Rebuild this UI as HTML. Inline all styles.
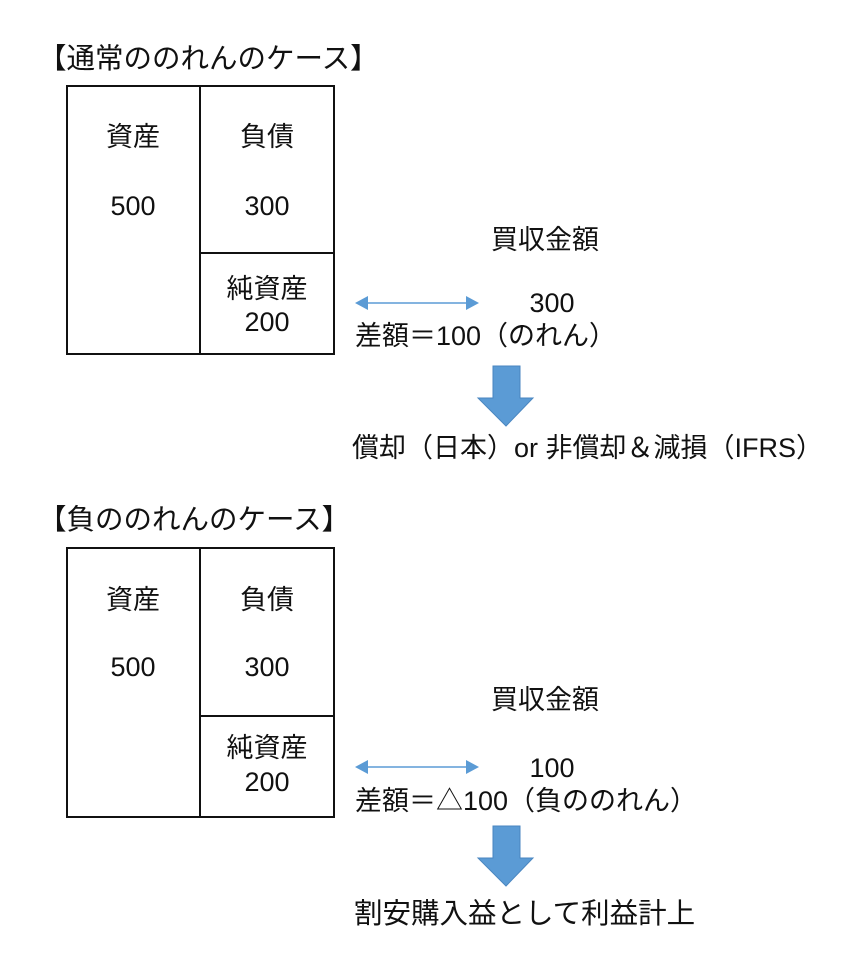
<!DOCTYPE html>
<html><head><meta charset="utf-8"><style>
html,body{margin:0;padding:0;background:#fff;}
svg text{font-family:"Liberation Sans","Noto Sans CJK JP",sans-serif;font-size:27px;fill:#111;}
svg text.t{font-size:28.5px;}
svg text.b{font-size:28.5px;}
</style></head><body>
<svg width="860" height="963" viewBox="0 0 860 963" xmlns="http://www.w3.org/2000/svg">
<g stroke="#111" stroke-width="2" fill="none">
<rect x="67" y="86" width="267" height="268"/>
<line x1="200" y1="86" x2="200" y2="354"/>
<line x1="200" y1="253" x2="334" y2="253"/>
<rect x="67" y="548" width="267" height="269"/>
<line x1="200" y1="548" x2="200" y2="817"/>
<line x1="200" y1="716" x2="334" y2="716"/>
</g>
<text class="t" x="38" y="68">【通常ののれんのケース】</text>
<text x="133" y="146" text-anchor="middle">資産</text>
<text x="133" y="215" text-anchor="middle">500</text>
<text x="267" y="146" text-anchor="middle">負債</text>
<text x="267" y="215" text-anchor="middle">300</text>
<text x="267" y="298" text-anchor="middle">純資産</text>
<text x="267" y="331" text-anchor="middle">200</text>
<text x="545" y="249" text-anchor="middle">買収金額</text>
<text x="552" y="312" text-anchor="middle">300</text>
<text x="355" y="345">差額＝100（のれん）</text>
<text x="352" y="457">償却（日本）or 非償却＆減損（IFRS）</text>

<text class="t" x="38" y="529">【負ののれんのケース】</text>
<text x="133" y="609" text-anchor="middle">資産</text>
<text x="133" y="676" text-anchor="middle">500</text>
<text x="267" y="609" text-anchor="middle">負債</text>
<text x="267" y="676" text-anchor="middle">300</text>
<text x="267" y="757" text-anchor="middle">純資産</text>
<text x="267" y="791" text-anchor="middle">200</text>
<text x="545" y="709" text-anchor="middle">買収金額</text>
<text x="552" y="777" text-anchor="middle">100</text>
<text x="355" y="810">差額＝△100（負ののれん）</text>
<text class="b" x="354" y="923">割安購入益として利益計上</text>

<g fill="#5b9bd5" stroke="#5b9bd5">
<line x1="362" y1="303" x2="472" y2="303" stroke-width="1.5"/>
<polygon points="355,303 368,296 368,310" stroke="none"/>
<polygon points="479,303 466,296 466,310" stroke="none"/>
<line x1="362" y1="767" x2="472" y2="767" stroke-width="1.5"/>
<polygon points="355,767 368,760 368,774" stroke="none"/>
<polygon points="479,767 466,760 466,774" stroke="none"/>
<polygon points="493,366 520,366 520,398 533,398 506,426 478,398 493,398" stroke="#4a86c0" stroke-width="1"/>
<polygon points="493,826 520,826 520,858 533,858 506,886 478,858 493,858" stroke="#4a86c0" stroke-width="1"/>
</g>
</svg>
</body></html>
